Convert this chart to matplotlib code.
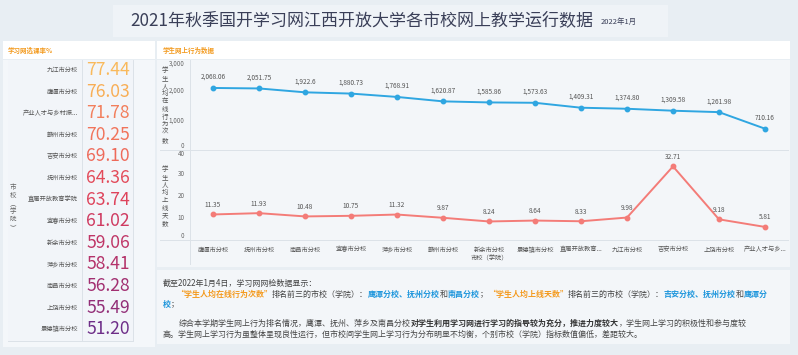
import matplotlib
matplotlib.use("Agg")
import matplotlib.pyplot as plt
from matplotlib.patches import Rectangle
from matplotlib.lines import Line2D

plt.rcParams['font.family'] = ['Noto Sans CJK SC', 'DejaVu Sans']

W, H = 798, 355

# left panel: course selection rate
rate_schools = ["九江市分校", "鹰潭市分校", "产业人才与乡村振...", "赣州市分校", "吉安市分校",
                "抚州市分校", "直属开放教育学院", "宜春市分校", "新余市分校", "萍乡市分校",
                "南昌市分校", "上饶市分校", "景德镇市分校"]
rate_values = [77.44, 76.03, 71.78, 70.25, 69.10, 64.36, 63.74, 61.02, 59.06, 58.41,
               56.28, 55.49, 51.20]
rate_colors = ["#F9B95B", "#F8AE55", "#F27F5C", "#F1745B", "#EE6A5A", "#E34B5A", "#DE435B",
               "#CF3A60", "#BF3566", "#B4326A", "#A22F71", "#922E77", "#6E2E88"]

# right panel: online behaviour
schools = ["鹰潭市分校", "抚州市分校", "南昌市分校", "宜春市分校", "萍乡市分校", "赣州市分校",
           "新余市分校", "景德镇市分校", "直属开放教育...", "九江市分校", "吉安市分校",
           "上饶市分校", "产业人才与乡..."]
actions = [2068.06, 2051.75, 1922.6, 1880.73, 1768.91, 1620.87, 1585.86, 1573.63,
           1409.31, 1374.80, 1309.58, 1261.98, 710.16]
action_labels = ["2,068.06", "2,051.75", "1,922.6", "1,880.73", "1,768.91", "1,620.87",
                 "1,585.86", "1,573.63", "1,409.31", "1,374.80", "1,309.58", "1,261.98", "710.16"]
days = [11.35, 11.93, 10.48, 10.75, 11.32, 9.87, 8.24, 8.64, 8.33, 9.98, 32.71, 9.18, 5.81]


def fx(x):
    return x / W


def fy(y):
    return 1 - y / H


def px(p):
    # pixel size -> points
    return p * 0.72


def box(fig, x0, y0, x1, y1, color):
    fig.patches.append(Rectangle((fx(x0), fy(y1)), fx(x1 - x0), (y1 - y0) / H,
                                 transform=fig.transFigure, facecolor=color, edgecolor="none",
                                 zorder=-5))


def hline(fig, x0, x1, y, color="#DCE2E8"):
    fig.lines.append(Line2D([fx(x0), fx(x1)], [fy(y), fy(y)], transform=fig.transFigure,
                            color=color, linewidth=0.7, zorder=-1))


def vline(fig, x, y0, y1, color="#DCE2E8"):
    fig.lines.append(Line2D([fx(x), fx(x)], [fy(y0), fy(y1)], transform=fig.transFigure,
                            color=color, linewidth=0.7, zorder=-1))


fig = plt.figure(figsize=(W / 100, H / 100), dpi=100)
fig.patch.set_facecolor("#E8EEF3")

# title box
box(fig, 113, 5, 668, 37, "#EFF3F7")
fig.text(fx(130), fy(20), "2021年秋季国开学习网江西开放大学各市校网上教学运行数据",
         ha="left", va="center", fontsize=px(17), color="#3A3F58")
fig.text(fx(601), fy(22), "2022年1月", ha="left", va="center", fontsize=px(7.5), color="#3A3F58")

# panel headers
box(fig, 3, 41, 155, 59, "white")
box(fig, 157, 41, 790, 59, "white")
fig.text(fx(8), fy(50), "学习网选课率%", ha="left", va="center", fontsize=px(6.5),
         color="#F39A1E", fontweight="bold")
fig.text(fx(163), fy(50), "学生网上行为数据", ha="left", va="center", fontsize=px(6.5),
         color="#F39A1E", fontweight="bold")

# left panel body
box(fig, 3, 60, 155, 347, "#F4F7FA")
box(fig, 8, 60, 133, 341, "#F2F5F9")
vline(fig, 82, 60, 341)
vline(fig, 133, 60, 341)
hline(fig, 8, 133, 341)
for i, (name, val, col) in enumerate(zip(rate_schools, rate_values, rate_colors)):
    y = 70 + i * 21.6
    fig.text(fx(78), fy(y), name, ha="right", va="center", fontsize=px(6.3), color="#555555")
    fig.text(fx(86), fy(y), f"{val:.2f}", ha="left", va="center", fontsize=px(17.5), color=col)
fig.text(fx(13), fy(207), "市\n校\n︵\n学\n院\n︶", ha="center", va="center",
         fontsize=px(6.5), color="#666666", linespacing=1.0)

# right chart area
box(fig, 157, 60, 790, 267, "#F3F6F9")
box(fig, 157, 270, 790, 344, "#F3F6F9")

ax1 = fig.add_axes([fx(190), fy(150), fx(788 - 190), (150 - 60) / H])
ax2 = fig.add_axes([fx(190), fy(240), fx(788 - 190), (240 - 150) / H])
xs = list(range(len(schools)))

for ax in (ax1, ax2):
    ax.set_facecolor("none")
    for s in ax.spines.values():
        s.set_visible(False)
    ax.set_xlim(-0.5, len(schools) - 0.5)
    ax.tick_params(axis="y", length=0, labelsize=px(6.3), labelcolor="#666666", pad=4)

ax1.plot(xs, actions, color="#2FA6E1", linewidth=1.4, marker="o", markersize=3.2)
ax1.set_ylim(0, 3000)
ax1.set_yticks([0, 1000, 2000, 3000])
ax1.set_yticklabels(["0", "1,000", "2,000", "3,000"])
ax1.set_xticks([])
for x, v, lab in zip(xs, actions, action_labels):
    ax1.annotate(lab, (x, v), xytext=(0, 5), textcoords="offset points", ha="center",
                 va="bottom", fontsize=px(6.5), color="#555555")

ax2.plot(xs, days, color="#F37C78", linewidth=1.4, marker="o", markersize=3.2)
ax2.set_ylim(0, 40)
ax2.set_yticks([0, 10, 20, 30, 40])
ax2.set_xticks(xs)
ax2.set_xticklabels(schools)
ax2.tick_params(axis="x", length=0, labelsize=px(6.3), labelcolor="#555555", pad=4)
for x, v in zip(xs, days):
    ax2.annotate(f"{v:.2f}", (x, v), xytext=(0, 4), textcoords="offset points", ha="center",
                 va="bottom", fontsize=px(6.5), color="#555555")

# keep the end labels of both y axes inside their own grid
for ax in (ax1, ax2):
    labs = ax.get_yticklabels()
    labs[0].set_va("bottom")
    labs[-1].set_va("top")

hline(fig, 160, 788, 150)
hline(fig, 160, 788, 240)
vline(fig, 190, 60, 264)

fig.text(fx(165), fy(105), "学\n生\n人\n均\n在\n线\n行\n为\n次\n数", ha="center", va="center",
         fontsize=px(6.5), color="#555555", linespacing=0.95)
fig.text(fx(165), fy(196), "学\n生\n人\n均\n上\n线\n天\n数", ha="center", va="center",
         fontsize=px(6.5), color="#555555", linespacing=0.95)
fig.text(fx(489), fy(258), "市校（学院）", ha="center", va="center", fontsize=px(6.3),
         color="#555555")

# summary text with mixed styles
renderer = fig.canvas.get_renderer()
GRAY, DARK, ORANGE, BLUE = "#444444", "#333333", "#F39A1E", "#1E96DC"
TS = px(8.0)


def rich(x, y, parts):
    for txt, col, bold in parts:
        t = fig.text(fx(x), fy(y), txt, ha="left", va="center", fontsize=TS, color=col,
                     fontweight="bold" if bold else "normal")
        x += t.get_window_extent(renderer).width


rich(163, 283, [("截至2022年1月4日，学习网网检数据显示：", GRAY, False)])
rich(176, 294, [("“学生人均在线行为次数”", ORANGE, True),
                ("排名前三的市校（学院）：", GRAY, False),
                ("鹰潭分校、抚州分校", BLUE, True),
                ("和", GRAY, False),
                ("南昌分校", BLUE, True),
                ("；", GRAY, False),
                ("“学生人均上线天数”", ORANGE, True),
                ("排名前三的市校（学院）：", GRAY, False),
                ("吉安分校、抚州分校", BLUE, True),
                ("和", GRAY, False),
                ("鹰潭分", BLUE, True)])
rich(163, 304, [("校", BLUE, True), ("；", GRAY, False)])
rich(179, 323, [("综合本学期学生网上行为排名情况，鹰潭、抚州、萍乡及南昌分校", GRAY, False),
                ("对学生利用学习网进行学习的指导较为充分，推进力度较大", DARK, True),
                ("，学生网上学习的积极性和参与度较", GRAY, False)])
rich(163, 334, [("高。学生网上学习行为虽整体呈现良性运行，但市校间学生网上学习行为分布明显不均衡，个别市校（学院）指标数值偏低，差距较大。",
                 GRAY, False)])

fig.savefig("out.png", dpi=100, facecolor=fig.get_facecolor())
